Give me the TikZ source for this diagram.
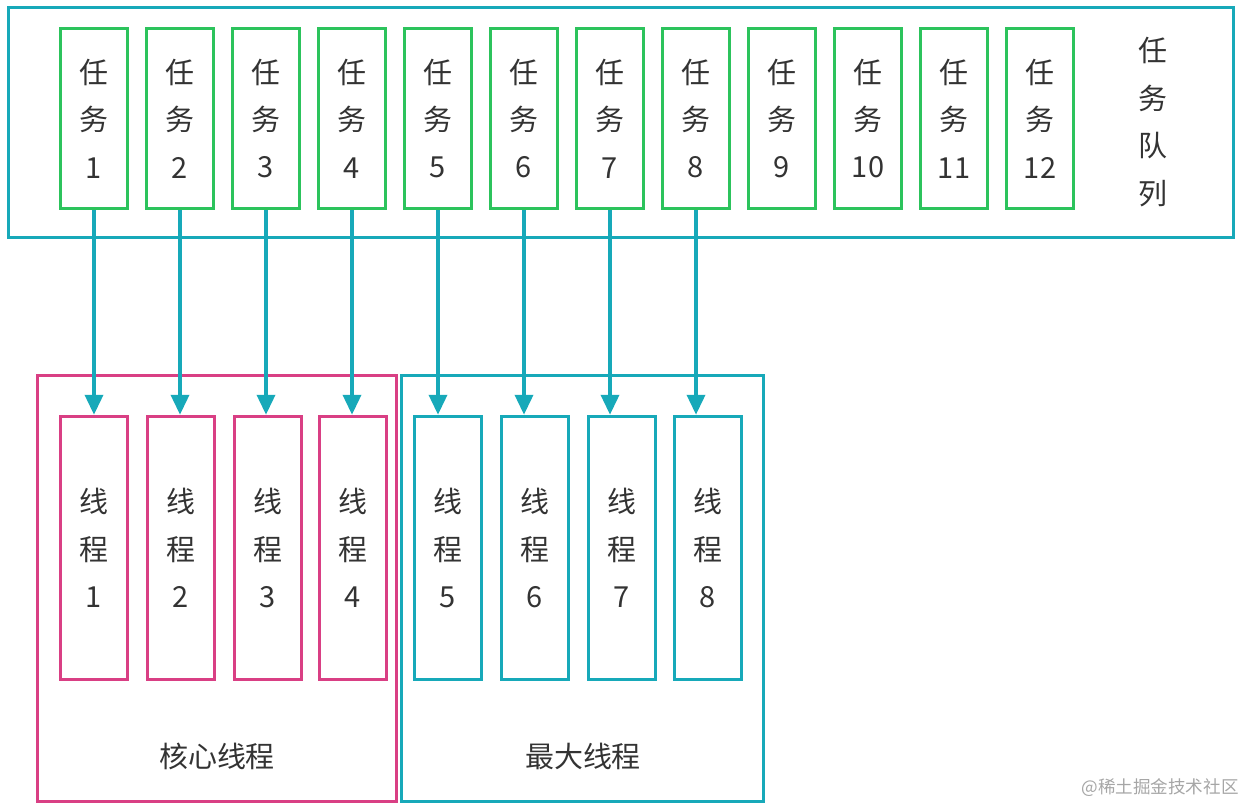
\documentclass[tikz,border=0pt]{standalone}
\usepackage{fontspec}
\newfontfamily\cjk{Noto Sans CJK SC}
\usetikzlibrary{positioning, arrows.meta}
\definecolor{QueueTeal}{HTML}{17A9B9}
\definecolor{TaskGreen}{HTML}{2CC35C}
\definecolor{CorePink}{HTML}{D93F84}
\definecolor{TextGray}{HTML}{333333}

\tikzset{
    box/.style={draw, line width=2pt, rectangle, inner sep=0pt,
        font=\cjk\fontsize{16.5}{27}\selectfont, text=TextGray, align=center},
    taskbox/.style={box, TaskGreen, text=TextGray, minimum width=1.34cm, minimum height=3.6cm},
    threadbox/.style={box, minimum width=1.34cm, minimum height=5.26cm},
    frame/.style={draw, line width=2pt, rectangle, inner sep=0pt},
    label/.style={font=\cjk\fontsize{16.5}{27}\selectfont, text=TextGray, align=center},
    arrow/.style={QueueTeal, line width=2.1pt, -{Triangle[length=0.4cm, width=0.36cm]}}
}

\begin{document}
\begin{tikzpicture}[x=0.02cm, y=-0.02cm]
                \useasboundingbox (0,0) rectangle (1246,810);
                % Frames
                \node[frame, QueueTeal, minimum width=24.5cm, minimum height=4.6cm] (queue) at (621,122.5) {};
                \node[frame, CorePink, minimum width=7.18cm, minimum height=8.52cm] (core) at (217,588.5) {};
                \node[frame, QueueTeal, minimum width=7.24cm, minimum height=8.52cm] (max) at (582.5,588.5) {};

                % Task queue
                \foreach \i in {1,...,12} {
                    \pgfmathsetmacro{\x}{94 + 86*(\i-1)}
                    \node[taskbox] (task\i) at (\x,118.5) {任\\务\\\i};
                }
                \node[label] (queuelabel) at (1153,122) {任\\务\\队\\列};

                % Threads
                \foreach \i/\x in {1/94, 2/181, 3/268, 4/353} {
                    \node[threadbox, CorePink, text=TextGray] (thread\i) at (\x,548) {线\\程\\\i};
                }
                \foreach \i/\x in {5/448, 6/535, 7/622, 8/708} {
                    \node[threadbox, QueueTeal, text=TextGray] (thread\i) at (\x,548) {线\\程\\\i};
                }
                \node[label] (corelabel) at (217,756) {核心线程};
                \node[label] (maxlabel) at (583,756) {最大线程};

                % Tasks handed to threads
                \foreach \i in {1,...,8} {
                    \draw[arrow] (task\i.south) -- (task\i.south |- thread\i.north);
                }

                % Watermark
                \node[font=\cjk\fontsize{10}{12}\selectfont, text=black!35] (mark) at (1160,788) {@稀土掘金技术社区};
            \end{tikzpicture}
\end{document}
